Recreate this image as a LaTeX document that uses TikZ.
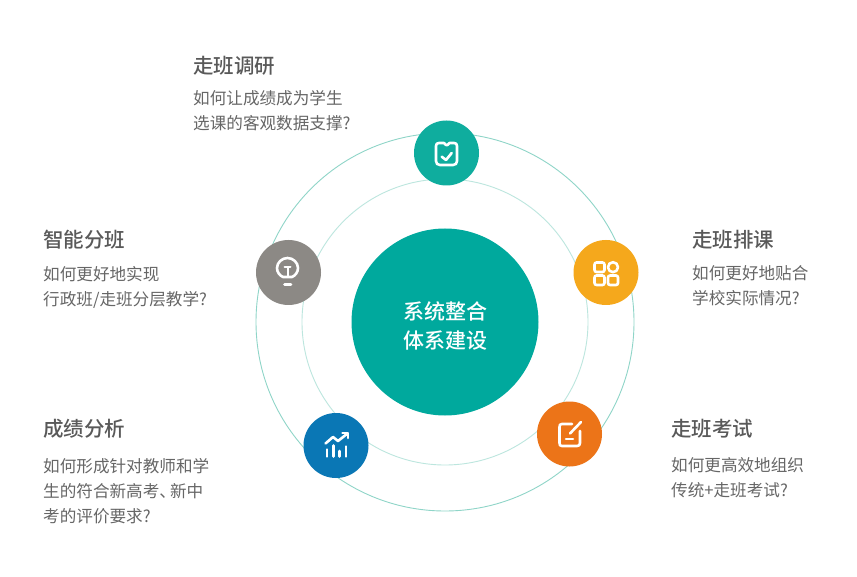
\documentclass[tikz,border=0pt]{standalone}
\usepackage{xcolor}
\usepackage{fontspec}
\usetikzlibrary{positioning}
\setmainfont{Noto Sans CJK SC}[BoldFont={Noto Sans CJK SC Medium}]
\definecolor{ringgreen}{HTML}{8FD5C8}
\definecolor{innerring}{HTML}{BCE6DE}
\definecolor{hubgreen}{HTML}{00A99D}
\definecolor{tealbadge}{HTML}{0FAD9E}
\definecolor{graybadge}{HTML}{8C8985}
\definecolor{amberbadge}{HTML}{F5A81C}
\definecolor{bluebadge}{HTML}{0A77B5}
\definecolor{orangebadge}{HTML}{EC7418}
\definecolor{titlegray}{HTML}{595959}
\definecolor{descgray}{HTML}{666666}
\tikzset{
    badge/.style={circle, minimum size=65pt, inner sep=0pt},
    headline/.style={anchor=west, inner sep=0pt, text=titlegray, font=\fontsize{20.5}{24}\selectfont\bfseries},
    blurb/.style={anchor=north west, inner sep=0pt, align=left, text=descgray, font=\fontsize{16.6}{25}\selectfont},
    glyph/.style={draw=white, line width=2.6pt, line cap=round, line join=round}
}

\begin{document}
\begin{tikzpicture}[x=1pt, y=-1pt]
    \useasboundingbox (0,0) rectangle (857,577);
    \fill[white] (0,0) rectangle (857,577);
    % rings
    \draw[ringgreen, line width=0.9pt] (445,322) circle[radius=189];
    \draw[innerring, line width=0.9pt] (445,322) circle[radius=143];
    % centre
    \node[circle, fill=hubgreen, minimum size=187pt, inner sep=0pt] (hub) at (445,322) {};
    \node[align=center, text=white, inner sep=0pt, font=\fontsize{21}{29}\selectfont\bfseries] (hubtext) at (445,325.5) {系统整合\\体系建设};
    % badges
    \node[badge, fill=tealbadge] (survey) at (446.5,153) {};
    \node[badge, fill=graybadge] (smart) at (288.5,272.5) {};
    \node[badge, fill=amberbadge] (timetable) at (606,272.5) {};
    \node[badge, fill=bluebadge] (analysis) at (336,445.5) {};
    \node[badge, fill=orangebadge] (exam) at (569.5,434) {};
    % clipboard
    \draw[glyph] (444,143) -- (439,143) .. controls (437,143) and (436,144) .. (436,146) -- (436,161) .. controls (436,163.5) and (437.5,165) .. (440,165) -- (453,165) .. controls (455.5,165) and (457,163.5) .. (457,161) -- (457,146) .. controls (457,144) and (456,143) .. (454,143) -- (449.5,143) -- (447.5,145) -- (446,145) -- cycle;
    \draw[glyph] (441.7,156.7) -- (446,160) -- (451.7,153);
    % bulb
    \draw[glyph] (283,277) .. controls (279.5,275.5) and (277,272) .. (277,268) .. controls (277,262.5) and (282,258) .. (287.5,258) .. controls (293,258) and (298,262.5) .. (298,268) .. controls (298,272) and (295.5,275.5) .. (292,277) -- cycle;
    \draw[glyph, line width=2pt] (284.5,267.5) -- (290.5,267.5) (287.5,267.5) -- (287.5,277);
    \draw[glyph] (284.5,284.5) -- (291,284.5);
    % four squares
    \draw[glyph, rounded corners=2pt] (594.5,262.5) rectangle (604.5,272);
    \draw[glyph] (613,267.2) circle[radius=5];
    \draw[glyph, rounded corners=2pt] (594.5,275.5) rectangle (604.5,285);
    \draw[glyph, rounded corners=2pt] (608,275.5) rectangle (618,285);
    % chart
    \draw[glyph] (325.5,443.5) -- (333,437) -- (338,441) -- (347.5,433.5);
    \draw[glyph] (342.5,433) -- (348,433) -- (348,438);
    \draw[glyph] (327,449.5) -- (327,456.5) (333.5,445.5) -- (333.5,456.5) (339.5,451) -- (339.5,456.5) (346,446.5) -- (346,456.5);
    % note
    \draw[glyph] (572,424) -- (562,424) .. controls (560,424) and (559.5,425) .. (559.5,427) -- (559.5,443) .. controls (559.5,445) and (560,446) .. (562,446) -- (577,446) .. controls (579,446) and (580,445) .. (580,443) -- (580,431);
    \draw[glyph] (570,433.5) -- (581,422);
    \draw[glyph] (566,439) -- (573,439);
    % texts
    \node[headline] (surveyhead) at (193,65.5) {走班调研};
    \node[blurb, below=15pt of surveyhead.south west, anchor=north west] (surveytext) {如何让成绩成为学生\\选课的客观数据支撑?};
    \node[headline] (smarthead) at (43,239.5) {智能分班};
    \node[blurb, below=16.5pt of smarthead.south west, anchor=north west] (smarttext) {如何更好地实现\\行政班/走班分层教学?};
    \node[headline] (timetablehead) at (692,239.5) {走班排课};
    \node[blurb, below=16.5pt of timetablehead.south west, anchor=north west] (timetabletext) {如何更好地贴合\\学校实际情况?};
    \node[headline] (analysishead) at (43,428.5) {成绩分析};
    \node[blurb, below=19.5pt of analysishead.south west, anchor=north west] (analysistext) {如何形成针对教师和学\\生的符合新高考、\hspace{-6pt}新中\\考的评价要求?};
    \node[headline] (examhead) at (671,428.5) {走班考试};
    \node[blurb, below=19.5pt of examhead.south west, anchor=north west] (examtext) {如何更高效地组织\\传统+走班考试?};
\end{tikzpicture}
\end{document}
